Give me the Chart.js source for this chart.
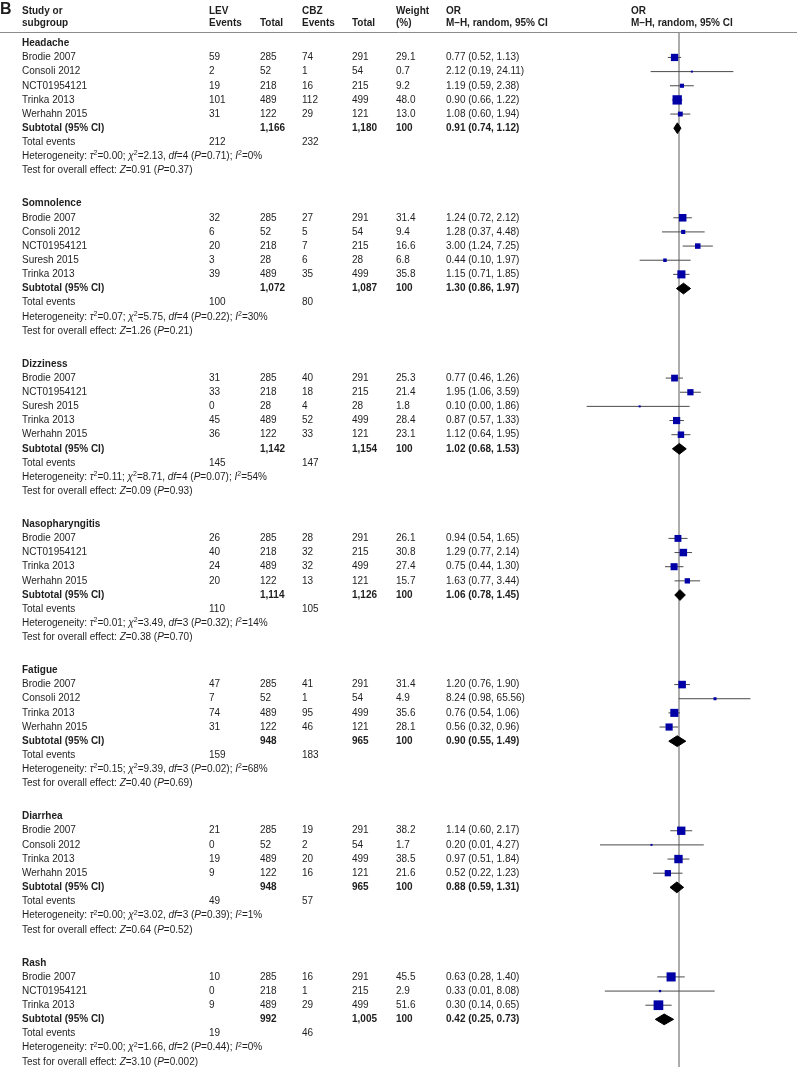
<!DOCTYPE html>
<html>
<head>
<meta charset="utf-8">
<title>LEV vs CBZ - adverse events forest plot</title>
<script src="https://cdn.jsdelivr.net/npm/chart.js@4.4.1/dist/chart.umd.min.js"></script>
<style>
  html, body { margin: 0; padding: 0; background: #fff; }
  #wrap { width: 797px; height: 1067px; position: relative; }
</style>
</head>
<body>
<div id="wrap"><canvas id="forest" width="797" height="1067"></canvas></div>
<script>
var groups = ['Headache', 'Somnolence', 'Dizziness', 'Nasopharyngitis', 'Fatigue', 'Diarrhea', 'Rash'];

var studies = [
  ['Brodie 2007', 'Consoli 2012', 'NCT01954121', 'Trinka 2013', 'Werhahn 2015'],
  ['Brodie 2007', 'Consoli 2012', 'NCT01954121', 'Suresh 2015', 'Trinka 2013'],
  ['Brodie 2007', 'NCT01954121', 'Suresh 2015', 'Trinka 2013', 'Werhahn 2015'],
  ['Brodie 2007', 'NCT01954121', 'Trinka 2013', 'Werhahn 2015'],
  ['Brodie 2007', 'Consoli 2012', 'Trinka 2013', 'Werhahn 2015'],
  ['Brodie 2007', 'Consoli 2012', 'Trinka 2013', 'Werhahn 2015'],
  ['Brodie 2007', 'NCT01954121', 'Trinka 2013']
];
var levEvents = [[59, 2, 19, 101, 31], [32, 6, 20, 3, 39], [31, 33, 0, 45, 36], [26, 40, 24, 20], [47, 7, 74, 31], [21, 0, 19, 9], [10, 0, 9]];
var levTotal  = [[285, 52, 218, 489, 122], [285, 52, 218, 28, 489], [285, 218, 28, 489, 122], [285, 218, 489, 122], [285, 52, 489, 122], [285, 52, 489, 122], [285, 218, 489]];
var cbzEvents = [[74, 1, 16, 112, 29], [27, 5, 7, 6, 35], [40, 18, 4, 52, 33], [28, 32, 32, 13], [41, 1, 95, 46], [19, 2, 20, 16], [16, 1, 29]];
var cbzTotal  = [[291, 54, 215, 499, 121], [291, 54, 215, 28, 499], [291, 215, 28, 499, 121], [291, 215, 499, 121], [291, 54, 499, 121], [291, 54, 499, 121], [291, 215, 499]];
var weights   = [[29.1, 0.7, 9.2, 48.0, 13.0], [31.4, 9.4, 16.6, 6.8, 35.8], [25.3, 21.4, 1.8, 28.4, 23.1], [26.1, 30.8, 27.4, 15.7], [31.4, 4.9, 35.6, 28.1], [38.2, 1.7, 38.5, 21.6], [45.5, 2.9, 51.6]];
var orMid  = [[0.77, 2.12, 1.19, 0.90, 1.08], [1.24, 1.28, 3.00, 0.44, 1.15], [0.77, 1.95, 0.10, 0.87, 1.12], [0.94, 1.29, 0.75, 1.63], [1.20, 8.24, 0.76, 0.56], [1.14, 0.20, 0.97, 0.52], [0.63, 0.33, 0.30]];
var orLow  = [[0.52, 0.19, 0.59, 0.66, 0.60], [0.72, 0.37, 1.24, 0.10, 0.71], [0.46, 1.06, 0.0045, 0.57, 0.64], [0.54, 0.77, 0.44, 0.77], [0.76, 0.98, 0.54, 0.32], [0.60, 0.0098, 0.51, 0.22], [0.28, 0.013, 0.14]];
var orHigh = [[1.13, 24.11, 2.38, 1.22, 1.94], [2.12, 4.48, 7.25, 1.97, 1.85], [1.26, 3.59, 1.86, 1.33, 1.95], [1.65, 2.14, 1.30, 3.44], [1.90, 65.56, 1.06, 0.96], [2.17, 4.27, 1.84, 1.23], [1.40, 8.08, 0.65]];

var subLevTotal = [1166, 1072, 1142, 1114, 948, 948, 992];
var subCbzTotal = [1180, 1087, 1154, 1126, 965, 965, 1005];
var subOr   = [0.91, 1.30, 1.02, 1.06, 0.90, 0.88, 0.42];
var subLow  = [0.74, 0.86, 0.68, 0.78, 0.55, 0.59, 0.25];
var subHigh = [1.12, 1.97, 1.53, 1.45, 1.49, 1.31, 0.73];
var totLevEvents = [212, 100, 145, 110, 159, 49, 19];
var totCbzEvents = [232, 80, 147, 105, 183, 57, 46];

var tau2 = [0.00, 0.07, 0.11, 0.01, 0.15, 0.00, 0.00];
var chi2 = [2.13, 5.75, 8.71, 3.49, 9.39, 3.02, 1.66];
var hetDf = [4, 4, 4, 3, 3, 3, 2];
var hetP = [0.71, 0.22, 0.07, 0.32, 0.02, 0.39, 0.44];
var iSq = [0, 30, 54, 14, 68, 1, 0];
var zVal = [0.91, 1.26, 0.09, 0.38, 0.40, 0.64, 3.10];
var zP = [0.37, 0.21, 0.93, 0.70, 0.69, 0.52, 0.002];

// layout of the table (pixels)
var W = 797, H = 1067;
var ROW = 14.15;        // row pitch
var FIRST_ROW = 43.3;   // centre of first group title
var GAP = 2.33;         // rows from "Test for overall effect" to next title
var RULE_Y = 32.5;
var FONT = '"Liberation Sans", Arial, sans-serif';
var TEXT = '#1e1e1e';
var COL = { study: 22, levEv: 209, levTot: 260, cbzEv: 302, cbzTot: 352, weight: 396, or: 446, plot: 631 };

var rows = [];
var u = 0;
groups.forEach(function(name, g) {
  rows.push({ kind: 'title', g: g, u: u }); u += 1;
  studies[g].forEach(function(st, s) { rows.push({ kind: 'study', g: g, s: s, u: u }); u += 1; });
  rows.push({ kind: 'subtotal', g: g, u: u }); u += 1;
  rows.push({ kind: 'events', g: g, u: u }); u += 1;
  rows.push({ kind: 'het', g: g, u: u }); u += 1;
  rows.push({ kind: 'test', g: g, u: u }); u += GAP;
});

var yMin = -FIRST_ROW / ROW;
var yMax = (H - FIRST_ROW) / ROW;

function fmtCI(m, l, h) { return m.toFixed(2) + ' (' + l.toFixed(2) + ', ' + h.toFixed(2) + ')'; }
function fmtP(p) { return p < 0.01 ? p.toFixed(3) : p.toFixed(2); }
function fmtN(n) { return n.toLocaleString('en-US'); }

// datasets
var datasets = [];

var sqData = [], sqRadius = [];
rows.forEach(function(r) {
  if (r.kind !== 'study') return;
  sqData.push({ x: orMid[r.g][r.s], y: r.u });
  var side = Math.max(2, 1.35 * Math.sqrt(weights[r.g][r.s]));
  sqRadius.push(side / (2 * Math.SQRT1_2));
});
datasets.push({
  label: 'Study OR', data: sqData, pointStyle: 'rect', pointRadius: sqRadius,
  backgroundColor: '#0000a6', borderColor: '#0000a6', borderWidth: 0, order: 0
});

rows.forEach(function(r) {
  if (r.kind === 'study') {
    datasets.push({
      label: studies[r.g][r.s] + ' CI',
      data: [{ x: orLow[r.g][r.s], y: r.u }, { x: orHigh[r.g][r.s], y: r.u }],
      showLine: true, borderColor: '#4a4a4a', borderWidth: 1, pointRadius: 0, order: 1
    });
  }
  if (r.kind === 'subtotal') {
    var hh = 0.38, g = r.g;
    datasets.push({
      label: groups[g] + ' subtotal',
      data: [
        { x: subLow[g], y: r.u }, { x: subOr[g], y: r.u - hh },
        { x: subHigh[g], y: r.u }, { x: subOr[g], y: r.u + hh }, { x: subLow[g], y: r.u }
      ],
      showLine: true, fill: 'shape', tension: 0, backgroundColor: '#000', borderColor: '#000',
      borderWidth: 1, pointRadius: 0, order: 0
    });
  }
});

datasets.push({
  label: 'No effect',
  data: [{ x: 1, y: (RULE_Y - FIRST_ROW) / ROW }, { x: 1, y: yMax }],
  showLine: true, borderColor: '#777', borderWidth: 1.2, pointRadius: 0, order: 2
});

function drawRich(ctx, x, y, parts) {
  parts.forEach(function(p) {
    var st = p[1] || '';
    var sup = st === 's';
    ctx.font = (st === 'i' ? 'italic ' : '') + (sup ? '7px ' : '10px ') + FONT;
    ctx.fillText(p[0], x, sup ? y - 3 : y);
    x += ctx.measureText(p[0]).width;
  });
}

var tablePlugin = {
  id: 'forestTable',
  afterDraw: function(chart) {
    var ctx = chart.ctx;
    var ys = chart.scales.y;
    ctx.save();
    ctx.fillStyle = TEXT;
    ctx.textAlign = 'left';

    ctx.font = 'bold 16px ' + FONT;
    ctx.textBaseline = 'alphabetic';
    ctx.fillText('B', 0, 14);

    ctx.textBaseline = 'middle';
    ctx.font = 'bold 10px ' + FONT;
    var h1 = 11.7, h2 = 23.3;
    ctx.fillText('Study or', COL.study, h1);
    ctx.fillText('subgroup', COL.study, h2);
    ctx.fillText('LEV', COL.levEv, h1);
    ctx.fillText('Events', COL.levEv, h2);
    ctx.fillText('Total', COL.levTot, h2);
    ctx.fillText('CBZ', COL.cbzEv, h1);
    ctx.fillText('Events', COL.cbzEv, h2);
    ctx.fillText('Total', COL.cbzTot, h2);
    ctx.fillText('Weight', COL.weight, h1);
    ctx.fillText('(%)', COL.weight, h2);
    ctx.fillText('OR', COL.or, h1);
    ctx.fillText('M\u2013H, random, 95% CI', COL.or, h2);
    ctx.fillText('OR', COL.plot, h1);
    ctx.fillText('M\u2013H, random, 95% CI', COL.plot, h2);

    ctx.strokeStyle = '#8c8c8c';
    ctx.lineWidth = 1;
    ctx.beginPath();
    ctx.moveTo(0, RULE_Y);
    ctx.lineTo(W, RULE_Y);
    ctx.stroke();

    rows.forEach(function(r) {
      var y = ys.getPixelForValue(r.u);
      var g = r.g, s = r.s;
      if (r.kind === 'title') {
        ctx.font = 'bold 10px ' + FONT;
        ctx.fillText(groups[g], COL.study, y);
      } else if (r.kind === 'study') {
        ctx.font = '10px ' + FONT;
        ctx.fillText(studies[g][s], COL.study, y);
        ctx.fillText(String(levEvents[g][s]), COL.levEv, y);
        ctx.fillText(String(levTotal[g][s]), COL.levTot, y);
        ctx.fillText(String(cbzEvents[g][s]), COL.cbzEv, y);
        ctx.fillText(String(cbzTotal[g][s]), COL.cbzTot, y);
        ctx.fillText(weights[g][s].toFixed(1), COL.weight, y);
        ctx.fillText(fmtCI(orMid[g][s], orLow[g][s], orHigh[g][s]), COL.or, y);
      } else if (r.kind === 'subtotal') {
        ctx.font = 'bold 10px ' + FONT;
        ctx.fillText('Subtotal (95% CI)', COL.study, y);
        ctx.fillText(fmtN(subLevTotal[g]), COL.levTot, y);
        ctx.fillText(fmtN(subCbzTotal[g]), COL.cbzTot, y);
        ctx.fillText('100', COL.weight, y);
        ctx.fillText(fmtCI(subOr[g], subLow[g], subHigh[g]), COL.or, y);
      } else if (r.kind === 'events') {
        ctx.font = '10px ' + FONT;
        ctx.fillText('Total events', COL.study, y);
        ctx.fillText(String(totLevEvents[g]), COL.levEv, y);
        ctx.fillText(String(totCbzEvents[g]), COL.cbzEv, y);
      } else if (r.kind === 'het') {
        drawRich(ctx, COL.study, y, [
          ['Heterogeneity: '], ['\u03c4', 'i'], ['2', 's'], ['=' + tau2[g].toFixed(2) + '; '],
          ['\u03c7', 'i'], ['2', 's'], ['=' + chi2[g].toFixed(2) + ', '],
          ['df', 'i'], ['=' + hetDf[g] + ' ('], ['P', 'i'], ['=' + fmtP(hetP[g]) + '); '],
          ['I', 'i'], ['2', 's'], ['=' + iSq[g] + '%']
        ]);
      } else if (r.kind === 'test') {
        drawRich(ctx, COL.study, y, [
          ['Test for overall effect: '], ['Z', 'i'], ['=' + zVal[g].toFixed(2) + ' ('],
          ['P', 'i'], ['=' + fmtP(zP[g]) + ')']
        ]);
      }
    });
    ctx.restore();
  }
};

var chart = new Chart(document.getElementById('forest').getContext('2d'), {
  type: 'scatter',
  data: { datasets: datasets },
  options: {
    responsive: false,
    animation: false,
    events: [],
    layout: { padding: { left: 561, right: 0, top: 0, bottom: 0 }, autoPadding: false },
    plugins: { legend: { display: false }, tooltip: { enabled: false } },
    scales: {
      x: { type: 'logarithmic', min: 0.001, max: 1000, display: false },
      y: { type: 'linear', min: yMin, max: yMax, reverse: true, display: false }
    }
  },
  plugins: [tablePlugin]
});
</script>
</body>
</html>
